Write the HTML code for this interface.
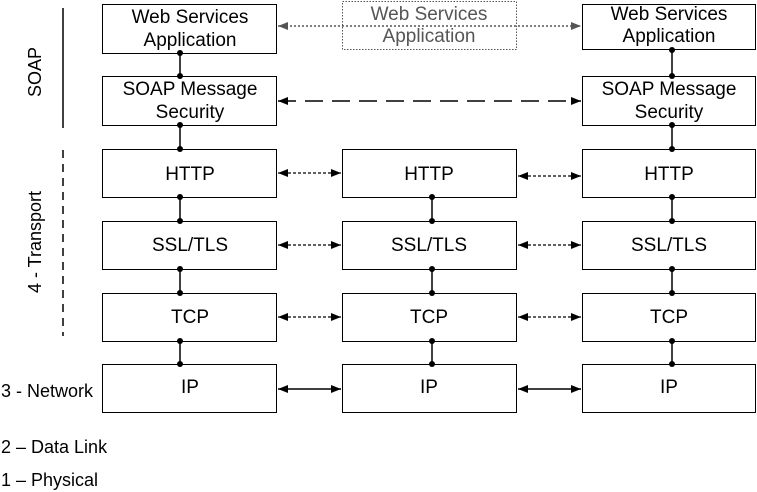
<!DOCTYPE html>
<html><head><meta charset="utf-8"><style>
html,body{margin:0;padding:0;background:#fff;}
svg{display:block;}
text{font-family:"Liberation Sans",Arial,sans-serif;font-size:19px;fill:#000;}
.side{font-size:18px;}
</style></head><body>
<svg width="757" height="492" viewBox="0 0 757 492" xmlns="http://www.w3.org/2000/svg">
<defs>
<marker id="ah" viewBox="0 0 10 8" refX="10" refY="4" markerWidth="10" markerHeight="8" markerUnits="userSpaceOnUse" orient="auto-start-reverse"><path d="M0,0 L10,4 L0,8 z" fill="#000"/></marker>
<marker id="ahg" viewBox="0 0 10 8" refX="10" refY="4" markerWidth="10" markerHeight="8" markerUnits="userSpaceOnUse" orient="auto-start-reverse"><path d="M0,0 L10,4 L0,8 z" fill="#555"/></marker>
</defs>
<line x1="63" y1="8" x2="63" y2="128" stroke="#000" stroke-width="1.5"/>
<line x1="63" y1="150" x2="63" y2="336" stroke="#000" stroke-width="1.5" stroke-dasharray="8,6"/>
<text class="side" transform="translate(41,72) rotate(-90)" text-anchor="middle">SOAP</text>
<text class="side" transform="translate(41,242) rotate(-90)" text-anchor="middle">4 - Transport</text>
<text class="side" x="1" y="397">3 - Network</text>
<text class="side" x="1" y="453">2 – Data Link</text>
<text class="side" x="1" y="486">1 – Physical</text>

<g fill="#fff" stroke="#000" stroke-width="1">
<rect x="102.5" y="4.5" width="174" height="49"/>
<rect x="102.5" y="76.5" width="174" height="49"/>
<rect x="102.5" y="149.5" width="174" height="48"/>
<rect x="102.5" y="221.5" width="174" height="48"/>
<rect x="102.5" y="293.5" width="174" height="48"/>
<rect x="102.5" y="364.5" width="174" height="48"/>
<rect x="342.5" y="149.5" width="174" height="48"/>
<rect x="342.5" y="221.5" width="174" height="48"/>
<rect x="342.5" y="293.5" width="174" height="48"/>
<rect x="342.5" y="364.5" width="174" height="48"/>
<rect x="582.5" y="4.5" width="173" height="45"/>
<rect x="582.5" y="76.5" width="173" height="49"/>
<rect x="582.5" y="149.5" width="173" height="48"/>
<rect x="582.5" y="221.5" width="173" height="48"/>
<rect x="582.5" y="293.5" width="173" height="48"/>
<rect x="582.5" y="364.5" width="173" height="48"/>
</g>
<rect x="342.5" y="1.5" width="174" height="48" fill="#fff" stroke="#555" stroke-width="1" stroke-dasharray="1.5,1.5"/>

<g text-anchor="middle">
<text x="190" y="23">Web Services</text><text x="190" y="46">Application</text>
<text x="190" y="95">SOAP Message</text><text x="190" y="118">Security</text>
<text x="190" y="180">HTTP</text><text x="190" y="251">SSL/TLS</text><text x="190" y="323">TCP</text><text x="190" y="393">IP</text>
<text x="429" y="20" style="fill:#555">Web Services</text><text x="429" y="42" style="fill:#555">Application</text>
<text x="429" y="180">HTTP</text><text x="429" y="251">SSL/TLS</text><text x="429" y="323">TCP</text><text x="429" y="393">IP</text>
<text x="669" y="20">Web Services</text><text x="669" y="42">Application</text>
<text x="669" y="95">SOAP Message</text><text x="669" y="118">Security</text>
<text x="669" y="180">HTTP</text><text x="669" y="251">SSL/TLS</text><text x="669" y="323">TCP</text><text x="669" y="393">IP</text>
</g>

<g stroke="#000" stroke-width="1.5">
<line x1="180" y1="53" x2="180" y2="76"/><line x1="180" y1="125" x2="180" y2="149"/>
<line x1="180" y1="197" x2="180" y2="221"/><line x1="180" y1="269" x2="180" y2="293"/><line x1="180" y1="341" x2="180" y2="364"/>
<line x1="432" y1="197" x2="432" y2="221"/><line x1="432" y1="269" x2="432" y2="293"/><line x1="432" y1="341" x2="432" y2="364"/>
<line x1="672" y1="50" x2="672" y2="76"/><line x1="672" y1="125" x2="672" y2="149"/>
<line x1="672" y1="197" x2="672" y2="221"/><line x1="672" y1="269" x2="672" y2="293"/><line x1="672" y1="341" x2="672" y2="364"/>
</g>
<g fill="#000">
<circle cx="180" cy="53" r="3"/><circle cx="180" cy="76" r="3"/><circle cx="180" cy="125" r="3"/><circle cx="180" cy="149" r="3"/>
<circle cx="180" cy="197" r="3"/><circle cx="180" cy="221" r="3"/><circle cx="180" cy="269" r="3"/><circle cx="180" cy="293" r="3"/><circle cx="180" cy="341" r="3"/><circle cx="180" cy="364" r="3"/>
<circle cx="432" cy="197" r="3"/><circle cx="432" cy="221" r="3"/><circle cx="432" cy="269" r="3"/><circle cx="432" cy="293" r="3"/><circle cx="432" cy="341" r="3"/><circle cx="432" cy="364" r="3"/>
<circle cx="672" cy="50" r="3"/><circle cx="672" cy="76" r="3"/><circle cx="672" cy="125" r="3"/><circle cx="672" cy="149" r="3"/>
<circle cx="672" cy="197" r="3"/><circle cx="672" cy="221" r="3"/><circle cx="672" cy="269" r="3"/><circle cx="672" cy="293" r="3"/><circle cx="672" cy="341" r="3"/><circle cx="672" cy="364" r="3"/>
</g>

<line x1="278" y1="26" x2="581" y2="26" stroke="#555" stroke-width="1.5" stroke-dasharray="2,2" marker-start="url(#ahg)" marker-end="url(#ahg)"/>
<line x1="278" y1="101" x2="581" y2="101" stroke="#000" stroke-width="1.5" stroke-dasharray="18,9" marker-start="url(#ah)" marker-end="url(#ah)"/>
<g stroke="#000" stroke-width="1.2" stroke-dasharray="3,2">
<line x1="278" y1="173" x2="341" y2="173" marker-start="url(#ah)" marker-end="url(#ah)"/>
<line x1="518" y1="176" x2="581" y2="176" marker-start="url(#ah)" marker-end="url(#ah)"/>
<line x1="278" y1="245" x2="341" y2="245" marker-start="url(#ah)" marker-end="url(#ah)"/>
<line x1="518" y1="245" x2="581" y2="245" marker-start="url(#ah)" marker-end="url(#ah)"/>
<line x1="278" y1="317" x2="341" y2="317" marker-start="url(#ah)" marker-end="url(#ah)"/>
<line x1="518" y1="317" x2="581" y2="317" marker-start="url(#ah)" marker-end="url(#ah)"/>
</g>
<g stroke="#000" stroke-width="1.5">
<line x1="278" y1="389" x2="341" y2="389" marker-start="url(#ah)" marker-end="url(#ah)"/>
<line x1="518" y1="389" x2="581" y2="389" marker-start="url(#ah)" marker-end="url(#ah)"/>
</g>
</svg>
</body></html>
